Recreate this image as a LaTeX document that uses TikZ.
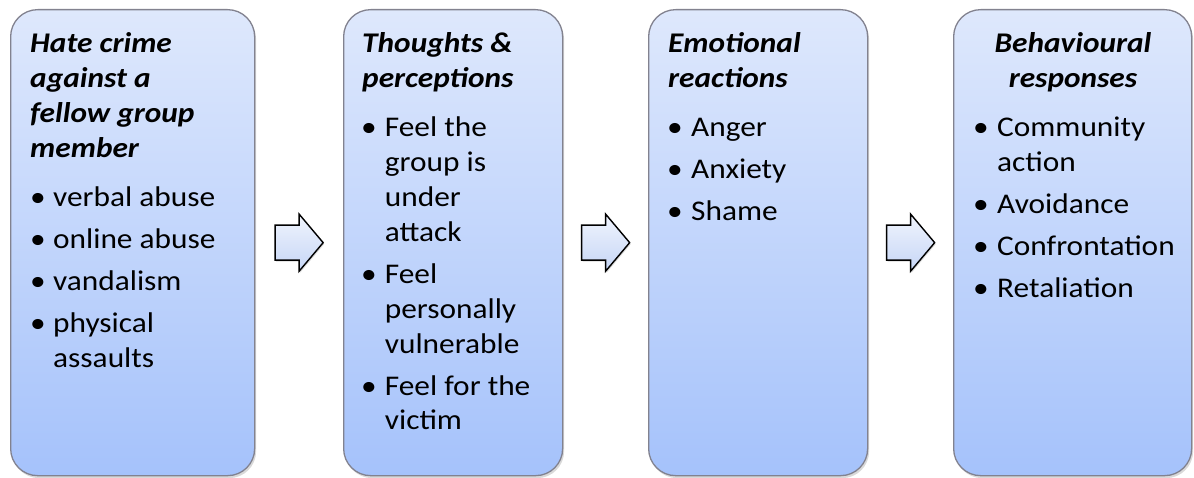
\documentclass[tikz,border=0pt]{standalone}
\usepackage{fontspec}
\setmainfont{Carlito}[FakeStretch=1.1]
\usetikzlibrary{shadows,calc}
\definecolor{boxtop}{HTML}{DEE8FC}
\definecolor{boxbot}{HTML}{A5C2FB}
\definecolor{boxline}{HTML}{82828F}
\definecolor{arrtop}{HTML}{F0F4FD}
\definecolor{arrbot}{HTML}{C6D6F6}
\tikzset{
  box/.style={draw=boxline, line width=1.3pt, rounded corners=27pt,
    top color=boxtop, bottom color=boxbot, inner sep=0pt, anchor=north west,
    drop shadow={opacity=0.3, shadow xshift=1.5pt, shadow yshift=-2.5pt}},
  ttl/.style={font=\bfseries\itshape\fontsize{28.5}{35}\selectfont, inner sep=0pt, anchor=base west},
  ttlc/.style={font=\bfseries\itshape\fontsize{28.5}{35}\selectfont, inner sep=0pt, anchor=base},
  itm/.style={font=\fontsize{28.5}{35}\selectfont, inner sep=0pt, anchor=base west},
  arrowbody/.style={draw=black, line width=1.4pt, top color=arrtop, bottom color=arrbot,
    drop shadow={opacity=0.3, shadow xshift=1pt, shadow yshift=-1.5pt}},
  blockarrow/.pic={\path[arrowbody] (-24,-17.5) -- (0,-17.5) -- (0,-28.5) -- (24,0)
    -- (0,28.5) -- (0,17.5) -- (-24,17.5) -- cycle;}
}
\begin{document}
\begin{tikzpicture}[x=1pt,y=-1pt]
\useasboundingbox (0,0) rectangle (1194,478);
% boxes
\node[box, minimum width=244pt, minimum height=466pt] (B1) at (10,9) {};
\node[box, minimum width=219pt, minimum height=466pt] (B2) at (343,9) {};
\node[box, minimum width=219pt, minimum height=466pt] (B3) at (648,9) {};
\node[box, minimum width=238pt, minimum height=466pt] (B4) at (953,9) {};
% arrows
\coordinate (A1) at ($(B1.east)!0.5!(B2.west)$);
\coordinate (A2) at ($(B2.east)!0.5!(B3.west)$);
\coordinate (A3) at ($(B3.east)!0.5!(B4.west)$);
\pic at (A1) {blockarrow};
\pic at (A2) {blockarrow};
\pic at (A3) {blockarrow};
% box 1
\node[ttl] (t1a) at (30,53) {Hate crime};
\node[ttl] (t1b) at (30,88) {against a};
\node[ttl] (t1c) at (30,123) {fellow group};
\node[ttl] (t1d) at (30,158) {member};
\node[itm] (b1a) at (30,206.7) {•};
\node[itm] (i1a) at (53,206.7) {verbal abuse};
\node[itm] (b1b) at (30,248.7) {•};
\node[itm] (i1b) at (53,248.7) {online abuse};
\node[itm] (b1c) at (30,290.7) {•};
\node[itm] (i1c) at (53,290.7) {vandalism};
\node[itm] (b1d) at (30,332.7) {•};
\node[itm] (i1d) at (53,332.7) {physical};
\node[itm] (i1e) at (53,367.7) {assaults};
% box 2
\node[ttl] (t2a) at (362,53) {Thoughts \&};
\node[ttl] (t2b) at (362,88) {perceptions};
\node[itm] (b2a) at (361,136.7) {•};
\node[itm] (i2a) at (384.7,136.7) {Feel the};
\node[itm] (i2b) at (384.7,171.7) {group is};
\node[itm] (i2c) at (384.7,206.7) {under};
\node[itm] (i2d) at (384.7,241.7) {attack};
\node[itm] (b2b) at (361,283.5) {•};
\node[itm] (i2e) at (384.7,283.5) {Feel};
\node[itm] (i2f) at (384.7,318.5) {personally};
\node[itm] (i2g) at (384.7,353.5) {vulnerable};
\node[itm] (b2c) at (361,395.3) {•};
\node[itm] (i2h) at (384.7,395.3) {Feel for the};
\node[itm] (i2i) at (384.7,429.3) {victim};
% box 3
\node[ttl] (t3a) at (668,53) {Emotional};
\node[ttl] (t3b) at (668,88) {reactions};
\node[itm] (b3a) at (667,136.7) {•};
\node[itm] (i3a) at (691,136.7) {Anger};
\node[itm] (b3b) at (667,178.7) {•};
\node[itm] (i3b) at (691,178.7) {Anxiety};
\node[itm] (b3c) at (667,220.7) {•};
\node[itm] (i3c) at (691,220.7) {Shame};
% box 4
\node[ttlc] (t4a) at (1073,53) {Behavioural};
\node[ttlc] (t4b) at (1073,88) {responses};
\node[itm] (b4a) at (973,136.7) {•};
\node[itm] (i4a) at (997,136.7) {Community};
\node[itm] (i4b) at (997,171.7) {action};
\node[itm] (b4b) at (973,213.7) {•};
\node[itm] (i4c) at (997,213.7) {Avoidance};
\node[itm] (b4c) at (973,255.7) {•};
\node[itm] (i4d) at (997,255.7) {Confrontation};
\node[itm] (b4d) at (973,297.7) {•};
\node[itm] (i4e) at (997,297.7) {Retaliation};
\end{tikzpicture}
\end{document}
